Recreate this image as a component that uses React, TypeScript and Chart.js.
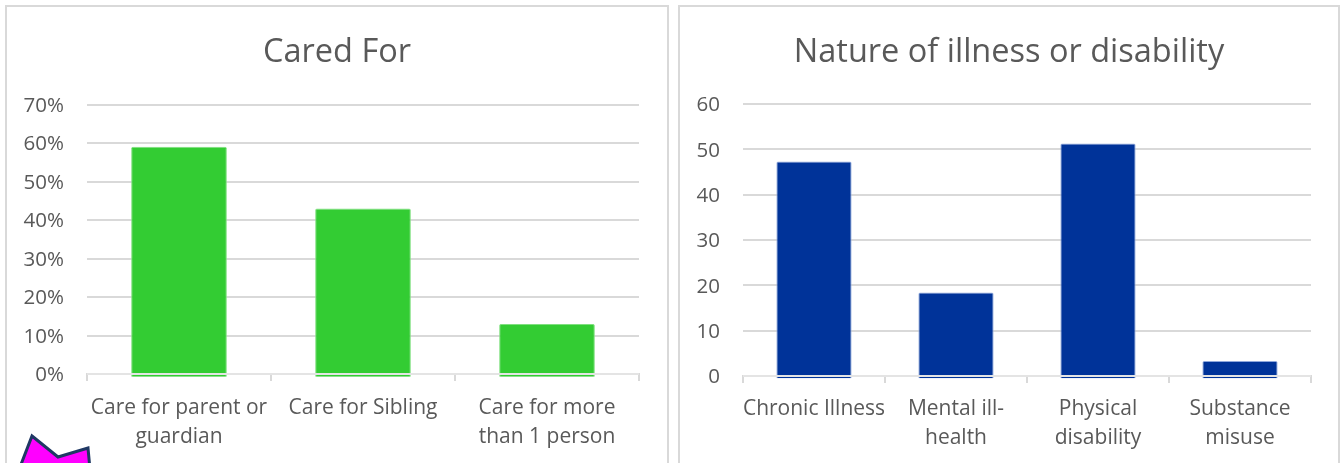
import React, { useEffect, useRef } from "react";
import { Chart, registerables } from "chart.js";

Chart.register(...registerables);

const FONT = '"Open Sans", sans-serif';
const TEXT = "#595959";
const GRID = "#d9d9d9";

const caredLabels = [["Care for parent or", "guardian"], "Care for Sibling", ["Care for more", "than 1 person"]];
const caredValues = [59, 43, 13];
const caredTicks = [0, 10, 20, 30, 40, 50, 60, 70];

const natureLabels = ["Chronic Illness", ["Mental ill-", "health"], ["Physical", "disability"], ["Substance", "misuse"]];
const natureValues = [47.3, 18.4, 51.3, 3.3];
const natureTicks = [0, 10, 20, 30, 40, 50, 60];

type PanelProps = {
  title: string;
  labels: (string | string[])[];
  values: number[];
  ticks: number[];
  color: string;
  edge: string;
  base: number;
  suffix: string;
  share: number;
  box: { left: number; width: number };
  area: { yWidth: number; xHeight: number; side: number; titleTop: number; titleBottom: number; tickPad: number };
};

// Redraws the category axis line over the feet of the bars.
const axisOverBars = {
  id: "axisOverBars",
  afterDatasetsDraw(chart: any) {
    const { ctx, chartArea, scales } = chart;
    const y = scales.y.getPixelForValue(0);
    ctx.save();
    ctx.strokeStyle = "#e4e4e4";
    ctx.lineWidth = 2;
    ctx.beginPath();
    ctx.moveTo(chartArea.left, y);
    ctx.lineTo(chartArea.right, y);
    ctx.stroke();
    ctx.restore();
  },
};

function Panel({ title, labels, values, ticks, color, edge, base, suffix, share, box, area }: PanelProps) {
  const ref = useRef<HTMLCanvasElement>(null);

  useEffect(() => {
    const chart = new Chart(ref.current!, {
      type: "bar",
      data: {
        labels,
        datasets: [
          {
            data: values,
            base,
            clip: 4,
            backgroundColor: color,
            borderColor: edge,
            borderWidth: 1,
            borderRadius: 1.5,
            categoryPercentage: share,
            barPercentage: 1,
          },
        ],
      },
      plugins: [axisOverBars],
      options: {
        responsive: false,
        animation: false,
        plugins: {
          legend: { display: false },
          tooltip: { enabled: false },
          title: {
            display: true,
            text: title,
            color: TEXT,
            font: { family: FONT, size: 32.5, weight: "normal", lineHeight: 1.2 },
            padding: { top: area.titleTop, bottom: area.titleBottom },
          },
        },
        scales: {
          x: {
            offset: true,
            afterFit: (s: any) => {
              s.height = area.xHeight;
            },
            border: { color: GRID, width: 2 },
            grid: { drawOnChartArea: false, drawTicks: true, tickLength: 7, tickColor: GRID, lineWidth: 2, offset: true },
            ticks: {
              color: TEXT,
              font: { family: FONT, size: 21, lineHeight: 1.38 },
              padding: area.tickPad,
              maxRotation: 0,
              autoSkip: false,
            },
          },
          y: {
            min: ticks[0],
            max: ticks[ticks.length - 1],
            afterFit: (s: any) => {
              s.width = area.yWidth;
            },
            afterBuildTicks: (s: any) => {
              s.ticks = ticks.map((value) => ({ value }));
            },
            border: { display: false },
            grid: { color: GRID, lineWidth: 2, drawTicks: false },
            ticks: {
              color: TEXT,
              // A leading empty line with a tight line height nudges each label down.
              font: { family: FONT, size: 20.5, lineHeight: 0.14 },
              padding: 23,
              callback: (v: any) => ["", `${v}${suffix}`],
            },
          },
          // Empty right-hand axis: holds the right margin while the title stays centred on the card.
          margin: {
            type: "linear",
            axis: "y",
            position: "right",
            afterFit: (s: any) => {
              s.width = area.side;
            },
            border: { display: false },
            grid: { display: false, drawTicks: false },
            ticks: { display: false },
          },
        },
      },
    } as any);
    return () => chart.destroy();
  }, []);

  return (
    <div
      style={{
        position: "absolute",
        left: box.left - 2,
        top: 5,
        width: box.width,
        height: 470,
        border: `2px solid ${GRID}`,
        background: "#fff",
      }}
    >
      <canvas ref={ref} width={box.width} height={456} style={{ display: "block" }} />
    </div>
  );
}

export default function App() {
  return (
    <div style={{ position: "fixed", inset: 0, overflow: "hidden", background: "#fff" }}>
      <Panel
        title="Cared For"
        labels={caredLabels}
        values={caredValues}
        ticks={caredTicks}
        color="#33cc33"
        edge="#7fe07f"
        base={-0.7}
        suffix="%"
        share={0.52}
        box={{ left: 7, width: 660 }}
        area={{ yWidth: 80, xHeight: 89, side: 28, titleTop: 26, titleBottom: 32.5, tickPad: 13 }}
      />
      <Panel
        title="Nature of illness or disability"
        labels={natureLabels}
        values={natureValues}
        ticks={natureTicks}
        color="#003399"
        edge="#8fa8dc"
        base={-0.5}
        suffix=""
        share={0.53}
        box={{ left: 680, width: 658 }}
        area={{ yWidth: 63, xHeight: 87, side: 27, titleTop: 26, titleBottom: 32, tickPad: 11.5 }}
      />
      <svg width={120} height={43} style={{ position: "absolute", left: 0, top: 420 }}>
        <polygon
          points="32,16 58,37 88,28 91,60 15,60"
          fill="#ff00ff"
          stroke="#1f3864"
          strokeWidth={3}
        />
      </svg>
    </div>
  );
}
